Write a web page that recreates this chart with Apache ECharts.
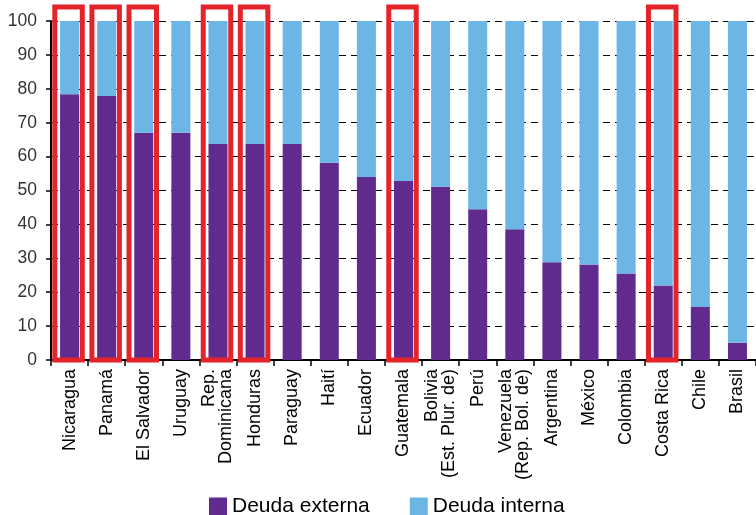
<!DOCTYPE html>
<html>
<head>
<meta charset="utf-8">
<script src="https://cdn.jsdelivr.net/npm/echarts@6/dist/echarts.min.js"></script>
<style>
  html, body { margin: 0; padding: 0; background: #fff; }
  #chart { width: 756px; height: 515px; }
</style>
</head>
<body>
<div id="chart"></div>
<script>
// categorías (países)
const countries = [
  'Nicaragua', 'Panamá', 'El Salvador', 'Uruguay', 'Rep.\nDominicana', 'Honduras',
  'Paraguay', 'Haití', 'Ecuador', 'Guatemala', 'Bolivia\n(Est. Plur. de)', 'Perú',
  'Venezuela\n(Rep. Bol. de)', 'Argentina', 'México', 'Colombia', 'Costa Rica', 'Chile', 'Brasil'
];
// porcentajes
const deudaExterna = [78.4, 77.9, 67.0, 67.0, 63.7, 63.7, 63.7, 58.2, 54.0, 52.8, 51.1, 44.5, 38.6, 28.8, 28.2, 25.5, 22.0, 15.6, 5.1];
const deudaInterna = [21.6, 22.1, 33.0, 33.0, 36.3, 36.3, 36.3, 41.8, 46.0, 47.2, 48.9, 55.5, 61.4, 71.2, 71.8, 74.5, 78.0, 84.4, 94.9];
// países marcados con recuadro rojo
const boxed = ['Nicaragua', 'Panamá', 'El Salvador', 'Rep.\nDominicana', 'Honduras', 'Guatemala', 'Costa Rica'];
const yTicks = { min: 0, max: 100, interval: 10 };

const FONT = '"Liberation Sans", Arial, sans-serif';
const chart = echarts.init(document.getElementById('chart'));

// recuadro rojo alrededor de la barra
function renderBox(params, api) {
  const top = api.coord([api.value(0), api.value(1)]);
  const bottom = api.coord([api.value(0), 0]);
  const w = 27.5;
  return {
    type: 'rect',
    shape: { x: top[0] - w / 2 - 1, y: top[1] - 14, width: w, height: bottom[1] - top[1] + 14 },
    style: { fill: 'none', stroke: '#e3242b', lineWidth: 5 }
  };
}

chart.setOption({
  animation: false,
  textStyle: { fontFamily: FONT },
  grid: { left: 51, top: 21, width: 712.5, bottom: 155 },
  legend: {
    data: ['Deuda externa', 'Deuda interna'],
    left: 204, top: 491,
    itemWidth: 18, itemHeight: 18, itemGap: 40,
    icon: 'rect',
    textStyle: { fontSize: 21, color: '#000', fontFamily: FONT }
  },
  xAxis: {
    type: 'category',
    data: countries,
    axisLine: { lineStyle: { color: '#000', width: 2 } },
    axisTick: { show: true, length: 6, lineStyle: { color: '#000', width: 1.5 } },
    axisLabel: {
      interval: 0, rotate: 90, margin: 9,
      fontSize: 18, lineHeight: 17, color: '#000', fontFamily: FONT
    }
  },
  yAxis: {
    type: 'value',
    min: yTicks.min, max: yTicks.max, interval: yTicks.interval,
    axisLine: { show: true, lineStyle: { color: '#000', width: 2 } },
    axisTick: { show: true, length: 5, lineStyle: { color: '#000', width: 1.5 } },
    axisLabel: { fontSize: 17.5, color: '#333', margin: 14, fontFamily: FONT },
    splitLine: { lineStyle: { color: '#000', type: [7, 5], width: 1 } }
  },
  series: [
    {
      name: 'Deuda externa', type: 'bar', stack: 'total', barWidth: 19,
      itemStyle: { color: '#612a8e' }, data: deudaExterna
    },
    {
      name: 'Deuda interna', type: 'bar', stack: 'total', barWidth: 19,
      itemStyle: { color: '#6cb6e6' }, data: deudaInterna
    },
    {
      type: 'custom', z: 10, clip: false,
      renderItem: renderBox,
      data: boxed.map(c => [c, 100])
    }
  ]
});
</script>
</body>
</html>
